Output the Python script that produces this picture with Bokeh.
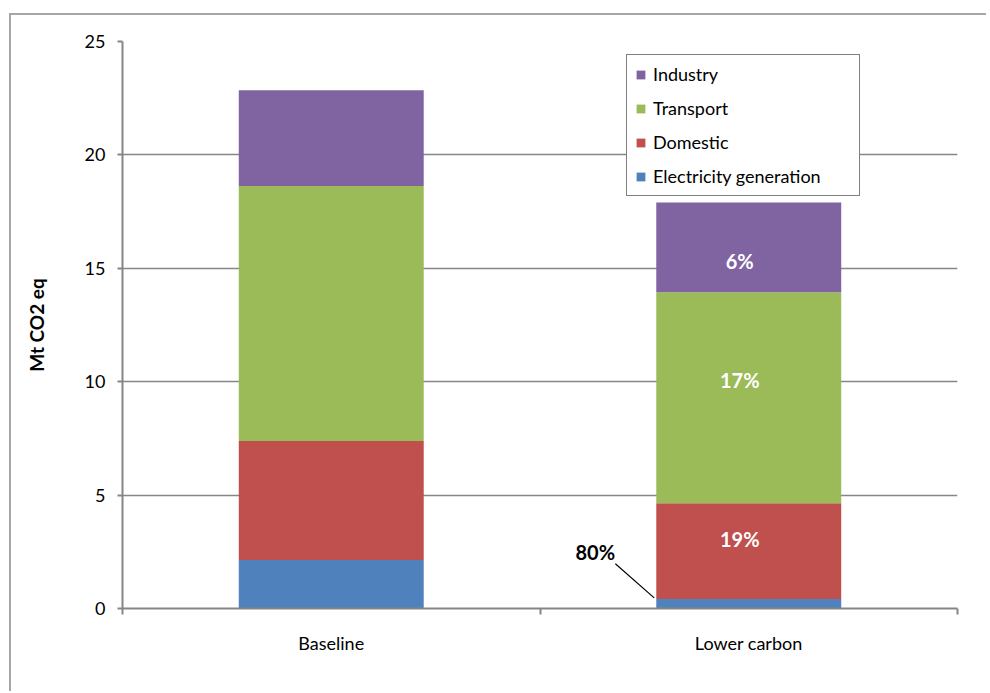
import numpy as np
from bokeh.plotting import figure
from bokeh.models import ColumnDataSource, Range1d, FixedTicker, Legend, LegendItem
from bokeh.core.properties import value
from bokeh.embed import file_html
from bokeh.resources import INLINE

# Emissions by sector, Mt CO2 eq
scenarios = ["Baseline", "Lower carbon"]
sectors = ["Electricity generation", "Domestic", "Transport", "Industry"]
sector_keys = ["electricity", "domestic", "transport", "industry"]
colors = ["#4F81BD", "#C0504D", "#9BBB59", "#8064A2"]

electricity = [2.14, 0.42]
domestic = [5.24, 4.22]
transport = [11.25, 9.30]
industry = [4.22, 3.96]

y_ticks = [0, 5, 10, 15, 20, 25]

FONT = "Lato"
GREY = "#868686"
BAR_WIDTH = 0.443

x_pos = np.arange(len(scenarios)) + 0.5
series = dict(zip(sector_keys, [electricity, domestic, transport, industry]))
src = ColumnDataSource(data=dict(x=x_pos, **series))

p = figure(
    frame_width=835, frame_height=567,
    min_border_left=111, min_border_right=29, min_border_top=26, min_border_bottom=83,
    x_range=Range1d(0, len(scenarios)), y_range=Range1d(0, 25),
    output_backend="svg", toolbar_location=None,
    background_fill_color="white", border_fill_color="white",
)
p.outline_line_color = None
p.styles = {
    "border-top": "2px solid #a6a6a6",
    "border-left": "2px solid #a6a6a6",
    "margin-left": "9px",
    "margin-top": "13px",
}

renderers = p.vbar_stack(sector_keys, x="x", width=BAR_WIDTH, color=colors,
                         line_color=None, source=src)

# x axis: category labels centred, ticks on category boundaries
p.xaxis.ticker = FixedTicker(ticks=list(x_pos),
                             minor_ticks=list(range(len(scenarios) + 1)))
p.xaxis.major_label_overrides = {float(x): s for x, s in zip(x_pos, scenarios)}
p.xaxis.major_tick_line_color = None
p.xaxis.major_tick_out = 0
p.xaxis.major_tick_in = 0
p.xaxis.minor_tick_line_color = GREY
p.xaxis.minor_tick_line_width = 2
p.xaxis.minor_tick_out = 6
p.xaxis.minor_tick_in = 0
p.xaxis.major_label_standoff = 17

p.yaxis.ticker = FixedTicker(ticks=y_ticks)
p.yaxis.major_tick_line_color = GREY
p.yaxis.major_tick_line_width = 2
p.yaxis.major_tick_out = 5
p.yaxis.major_tick_in = 0
p.yaxis.minor_tick_line_color = None
p.yaxis.major_label_standoff = 12
p.yaxis.axis_label = "Mt CO2 eq"
p.yaxis.axis_label_text_font = FONT
p.yaxis.axis_label_text_font_style = "bold"
p.yaxis.axis_label_text_font_size = "19px"
p.yaxis.axis_label_text_color = "black"
p.yaxis.axis_label_standoff = 34

for ax in (p.xaxis, p.yaxis):
    ax.axis_line_color = GREY
    ax.axis_line_width = 2
    ax.major_label_text_font = FONT
    ax.major_label_text_font_size = "18px"
    ax.major_label_text_color = "black"

p.xgrid.visible = False
p.ygrid.grid_line_color = GREY
p.ygrid.grid_line_width = 1.4

# percentage reductions, Baseline -> Lower carbon
base = [series[k][0] for k in sector_keys]
low = [series[k][1] for k in sector_keys]
reduction = [round((1 - l / b) * 100) for b, l in zip(base, low)]
bottoms = np.concatenate([[0], np.cumsum(low)[:-1]])

inner = ColumnDataSource(data=dict(
    x=[x_pos[1]] * 3,
    y=[bottoms[i] + low[i] / 2 for i in (1, 2, 3)],
    text=[f"{reduction[i]}%" for i in (1, 2, 3)],
    dy=[-12, -18, 14],
))
p.text(x="x", y="y", text="text", source=inner, x_offset=-9, y_offset="dy",
       text_font=value(FONT), text_font_style="bold", text_font_size="20px",
       text_color="white", text_align="center", text_baseline="middle")

# callout for the electricity segment
bar_left = x_pos[1] - BAR_WIDTH / 2
elec_top = low[0]
p.segment(x0=[bar_left - 0.098], y0=[elec_top + 1.55],
          x1=[bar_left - 0.005], y1=[elec_top + 0.05],
          line_color="black", line_width=1.2)
p.text(x=[bar_left - 0.146], y=[elec_top + 2.08], text=[f"{reduction[0]}%"],
       text_font=value(FONT), text_font_style="bold", text_font_size="20px",
       text_color="black", text_align="center", text_baseline="middle")

items = [LegendItem(label=s, renderers=[r]) for s, r in zip(sectors, renderers)][::-1]
legend = Legend(
    items=items, location=(504, 412),
    border_line_color="black", border_line_width=1.5,
    background_fill_color="white", background_fill_alpha=1,
    label_text_font=FONT, label_text_font_size="18px", label_text_color="black",
    glyph_width=11, glyph_height=11, label_standoff=7,
    spacing=12, padding=8, margin=0, label_width=198, label_height=12,
)
p.add_layout(legend)

open("out.html", "w").write(file_html(p, INLINE))
